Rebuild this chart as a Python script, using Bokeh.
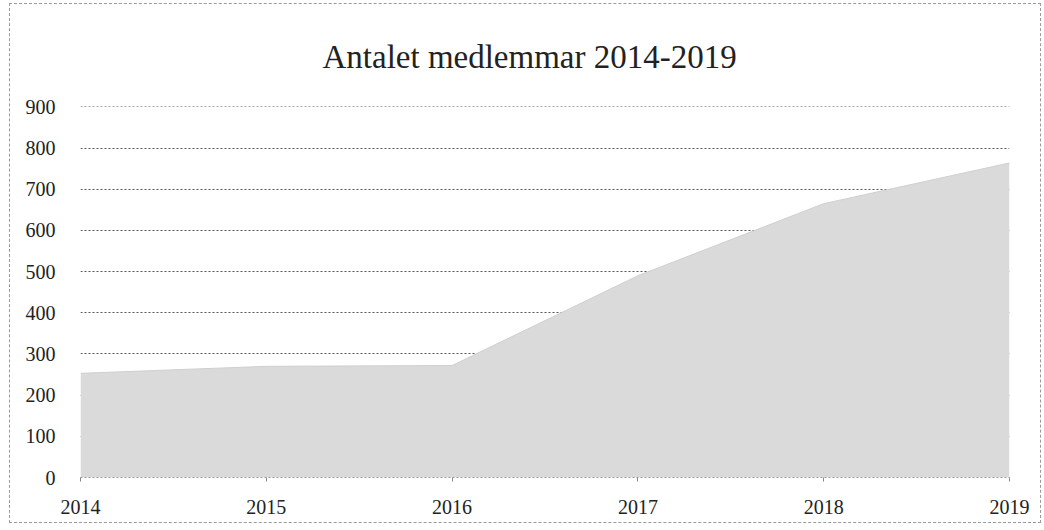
from bokeh.plotting import figure
from bokeh.models import FixedTicker, Range1d, Title
from bokeh.embed import file_html
from bokeh.resources import INLINE

years = [2014, 2015, 2016, 2017, 2018, 2019]
members = [253, 270, 272, 490, 665, 764]
y_ticks = [0, 100, 200, 300, 400, 500, 600, 700, 800, 900]
title_text = "Antalet medlemmar 2014-2019"

FONT = "Liberation Serif"

p = figure(width=1032, height=520, output_backend="svg", toolbar_location=None,
           x_range=Range1d(2014, 2019), y_range=Range1d(0, 901),
           min_border_left=70, min_border_right=33, min_border_top=97, min_border_bottom=47)
p.styles = {"border": "1px dashed #9a9a9a", "margin-left": "9px", "margin-top": "3px"}

p.title = Title(text=title_text, align="left", text_font=FONT, text_font_size="33px",
                text_font_style="normal", text_color="#222222", standoff=64, offset=242)

p.varea(x=years, y1=[0] * len(years), y2=members, fill_color="#dadada")
p.line(x=years, y=members, line_color="#cfcfcf", line_width=1)

p.xaxis.ticker = FixedTicker(ticks=years)
p.yaxis.ticker = FixedTicker(ticks=y_ticks)

p.xgrid.grid_line_color = None
p.ygrid.grid_line_color = "#555555"
p.ygrid.grid_line_dash = "2 2"
p.ygrid.grid_line_width = 1

p.xaxis.axis_line_color = "#9a9a9a"
p.xaxis.axis_line_dash = "2 2"
p.xaxis.major_tick_line_color = "#888888"
p.xaxis.major_tick_out = 4
p.xaxis.major_tick_in = 0
p.xaxis.minor_tick_line_color = None
p.xaxis.major_label_standoff = 18
p.xaxis.major_label_text_font = FONT
p.xaxis.major_label_text_font_size = "20px"
p.xaxis.major_label_text_color = "#222222"

p.yaxis.axis_line_color = None
p.yaxis.major_tick_line_color = None
p.yaxis.minor_tick_line_color = None
p.yaxis.major_tick_out = 0
p.yaxis.major_label_standoff = 25
p.yaxis.major_label_text_font = FONT
p.yaxis.major_label_text_font_size = "20px"
p.yaxis.major_label_text_color = "#222222"

p.outline_line_color = None
p.background_fill_color = "white"
p.border_fill_color = "white"

open("out.html", "w").write(file_html(p, INLINE))
